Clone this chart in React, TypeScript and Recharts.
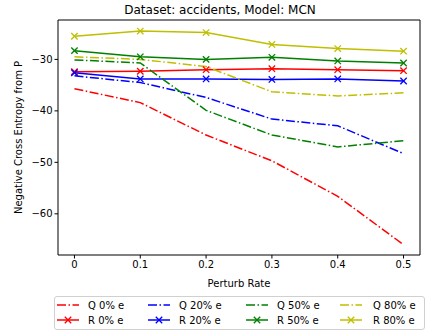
import React from "react";
import {
  Line,
  LineChart,
  ReferenceArea,
  XAxis,
  YAxis,
} from "recharts";

const perturbRates = [0, 0.1, 0.2, 0.3, 0.4, 0.5];

const q0 = [-35.7, -38.4, -44.7, -49.7, -56.6, -66.0];
const q20 = [-33.2, -34.5, -37.4, -41.6, -42.9, -48.3];
const q50 = [-30.1, -30.7, -39.9, -44.7, -47.0, -45.8];
const q80 = [-29.5, -30.0, -31.4, -36.3, -37.1, -36.5];

const r0 = [-32.4, -32.3, -32.0, -31.8, -32.0, -32.2];
const r20 = [-32.6, -33.8, -33.8, -33.9, -33.8, -34.2];
const r50 = [-28.3, -29.5, -30.0, -29.6, -30.3, -30.7];
const r80 = [-25.5, -24.5, -24.8, -27.1, -27.9, -28.4];

const xTicks = [0, 0.1, 0.2, 0.3, 0.4, 0.5];
const yTicks = [-60, -50, -40, -30];

const FONT = "'DejaVu Sans', sans-serif";
const DASH_DOT = "9 2.5 1.5 2.5";

const series = [
  { key: "q0", label: "Q 0% e", values: q0, color: "#ff0000", marker: false },
  { key: "r0", label: "R 0% e", values: r0, color: "#ff0000", marker: true },
  { key: "q20", label: "Q 20% e", values: q20, color: "#0000ff", marker: false },
  { key: "r20", label: "R 20% e", values: r20, color: "#0000ff", marker: true },
  { key: "q50", label: "Q 50% e", values: q50, color: "#008000", marker: false },
  { key: "r50", label: "R 50% e", values: r50, color: "#008000", marker: true },
  { key: "q80", label: "Q 80% e", values: q80, color: "#bfbf00", marker: false },
  { key: "r80", label: "R 80% e", values: r80, color: "#bfbf00", marker: true },
];

const data = perturbRates.map((rate, i) => {
  const row: Record<string, number> = { rate };
  series.forEach((s) => {
    row[s.key] = s.values[i];
  });
  return row;
});

const fmtMinus = (v: number) => (v < 0 ? "\u2212" + Math.abs(v) : String(v));

function XMarker(color: string) {
  return (props: any) => {
    const { cx, cy, index } = props;
    if (cx == null || cy == null) return <g key={index} />;
    const s = 3.2;
    return (
      <g key={index} stroke={color} strokeWidth={1.3}>
        <line x1={cx - s} y1={cy - s} x2={cx + s} y2={cy + s} />
        <line x1={cx - s} y1={cy + s} x2={cx + s} y2={cy - s} />
      </g>
    );
  };
}

// legend columns: Q on top row, R below
const legendCols = [
  { line: 57, text: 88 },
  { line: 148, text: 179 },
  { line: 246, text: 277 },
  { line: 340, text: 373 },
];

function LegendBox() {
  return (
    <svg
      width={433}
      height={334}
      style={{ position: "absolute", left: 0, top: 0, pointerEvents: "none" }}
    >
      <rect
        x={54.5}
        y={296.5}
        width={370}
        height={33}
        rx={2.5}
        fill="#fff"
        stroke="#d0d0d0"
      />
      {legendCols.map((col, c) =>
        [0, 1].map((row) => {
          const s = series[c * 2 + row];
          const y = row === 0 ? 305 : 320;
          return (
            <g key={s.key}>
              <line
                x1={col.line}
                x2={col.line + 22}
                y1={y}
                y2={y}
                stroke={s.color}
                strokeWidth={1.5}
                strokeDasharray={s.marker ? undefined : DASH_DOT}
              />
              {s.marker && (
                <g stroke={s.color} strokeWidth={1.3}>
                  <line x1={col.line + 11 - 3.2} y1={y - 3.2} x2={col.line + 11 + 3.2} y2={y + 3.2} />
                  <line x1={col.line + 11 - 3.2} y1={y + 3.2} x2={col.line + 11 + 3.2} y2={y - 3.2} />
                </g>
              )}
              <text
                x={col.text}
                y={y + 3.5}
                fontSize={10}
                fontFamily={FONT}
                fill="#000"
              >
                {s.label}
              </text>
            </g>
          );
        })
      )}
    </svg>
  );
}

export default function App() {
  return (
    <div style={{ position: "absolute", left: 0, top: 0, width: 433, height: 334, background: "#fff" }}>
      <div
        style={{
          position: "absolute",
          left: 0,
          top: 3,
          width: 440,
          textAlign: "center",
          fontFamily: FONT,
          fontSize: 12,
        }}
      >
        Dataset: accidents, Model: MCN
      </div>
      <LineChart
        width={433}
        height={334}
        data={data}
        margin={{ top: 20, right: 13, left: 0, bottom: 49 }}
        style={{ position: "absolute", left: 0, top: 0 }}
      >
        <XAxis
          dataKey="rate"
          type="number"
          domain={[-0.025, 0.525]}
          ticks={xTicks}
          allowDataOverflow
          height={30}
          tickLine={{ stroke: "#000" }}
          tickSize={3.5}
          axisLine={false}
          tick={{ fontSize: 10, fill: "#000", fontFamily: FONT }}
          label={{
            value: "Perturb Rate",
            position: "insideBottom",
            offset: -2,
            style: { fontSize: 10, fill: "#000", fontFamily: FONT },
          }}
        />
        <YAxis
          type="number"
          domain={[-68, -22.35]}
          ticks={yTicks}
          allowDataOverflow
          width={58}
          tickLine={{ stroke: "#000" }}
          tickSize={3.5}
          axisLine={false}
          tickFormatter={fmtMinus}
          tick={{ fontSize: 10, fill: "#000", fontFamily: FONT }}
          label={{
            value: "Negative Cross Entropy from P",
            angle: -90,
            position: "insideLeft",
            offset: 18,
            style: { fontSize: 10, fill: "#000", fontFamily: FONT, textAnchor: "middle" },
          }}
        />
        {series.map((s) => (
          <Line
            key={s.key}
            dataKey={s.key}
            type="linear"
            stroke={s.color}
            strokeWidth={1.5}
            strokeDasharray={s.marker ? undefined : DASH_DOT}
            dot={s.marker ? XMarker(s.color) : false}
            activeDot={false}
            isAnimationActive={false}
          />
        ))}
        <ReferenceArea
          x1={-0.025}
          x2={0.525}
          y1={-68}
          y2={-22.35}
          fill="none"
          stroke="#000"
          strokeWidth={1}
          ifOverflow="extendDomain"
        />
      </LineChart>
      <LegendBox />
    </div>
  );
}
